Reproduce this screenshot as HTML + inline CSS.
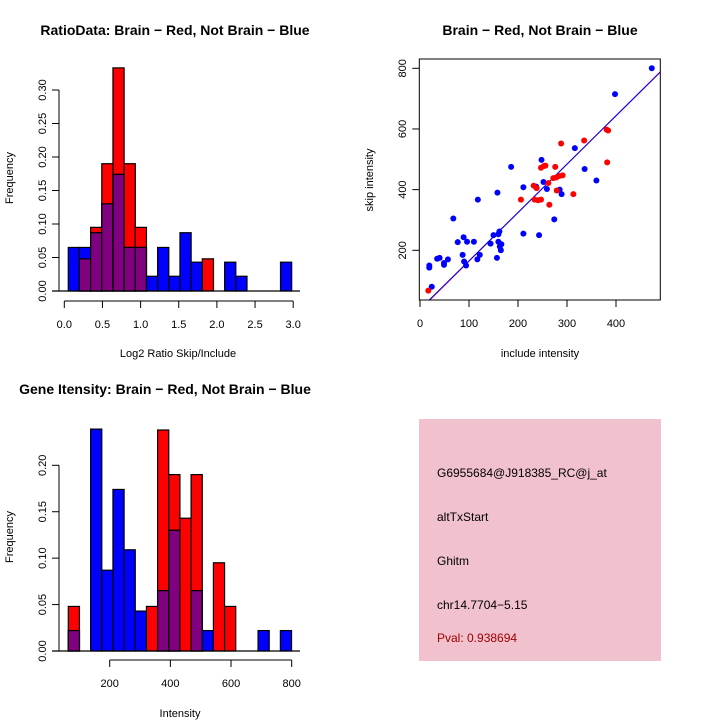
<!DOCTYPE html>
<html><head><meta charset="utf-8"><style>
html,body{margin:0;padding:0;background:#fff;}
svg{display:block;font-family:"Liberation Sans",Helvetica,sans-serif;}
</style></head><body>
<svg id="c" width="720" height="720" viewBox="0 0 720 720" xmlns="http://www.w3.org/2000/svg">
<rect x="0" y="0" width="720" height="720" fill="#fff"/>
<text x="175" y="35" font-size="14" font-weight="bold" text-anchor="middle">RatioData: Brain − Red, Not Brain − Blue</text>
<text x="540" y="35" font-size="14" font-weight="bold" text-anchor="middle">Brain − Red, Not Brain − Blue</text>
<text x="165" y="394" font-size="14" font-weight="bold" text-anchor="middle">Gene Itensity: Brain − Red, Not Brain − Blue</text>
<text x="178" y="357" font-size="11" text-anchor="middle">Log2 Ratio Skip/Include</text>
<text transform="translate(13,178) rotate(-90)" font-size="11" text-anchor="middle">Frequency</text>
<text x="540" y="357" font-size="11" text-anchor="middle">include intensity</text>
<text transform="translate(373,180) rotate(-90)" font-size="11" text-anchor="middle">skip intensity</text>
<text x="180" y="717" font-size="11" text-anchor="middle">Intensity</text>
<text transform="translate(13,537) rotate(-90)" font-size="11" text-anchor="middle">Frequency</text>
<g>
<rect x="419" y="419" width="242" height="242" fill="#f1c1cd"/>
<text x="437" y="477" font-size="12">G6955684@J918385_RC@j_at</text>
<text x="437" y="521" font-size="12">altTxStart</text>
<text x="437" y="565" font-size="12">Ghitm</text>
<text x="437" y="609" font-size="12">chr14.7704−5.15</text>
<text x="437" y="642" font-size="12" fill="#a00000">Pval: 0.938694</text>
</g>
<g id="g1"></g><g id="g2"></g><g id="g3"></g>
</svg>
<script>
// Ratio histogram data
const ratioBinStart = 0.052, ratioBinWidth = 0.1464;
const ratioRed = [0,0.048,0.095,0.19,0.333,0.19,0.095,0,0,0,0,0,0.048,0,0,0,0,0,0,0];
const ratioBlue = [0.065,0.065,0.087,0.13,0.174,0.065,0.065,0.022,0.065,0.022,0.087,0.043,0,0,0.043,0.022,0,0,0,0.043];
const ratioXTicks = [0,0.5,1,1.5,2,2.5,3];
const ratioXLabels = ["0.0","0.5","1.0","1.5","2.0","2.5","3.0"];
const ratioYTicks = [0,0.05,0.1,0.15,0.2,0.25,0.3];
const ratioYLabels = ["0.00","0.05","0.10","0.15","0.20","0.25","0.30"];
// Intensity histogram data
const intBinStart = 63.5, intBinWidth = 36.8;
const intRed = [0.048,0,0,0,0,0,0,0.048,0.238,0.19,0.143,0.19,0,0.095,0.048,0,0,0,0,0];
const intBlue = [0.022,0,0.239,0.087,0.174,0.109,0.043,0,0.065,0.13,0,0.065,0.022,0,0,0,0,0.022,0,0.022];
const intXTicks = [200,400,600,800];
const intYTicks = [0,0.05,0.1,0.15,0.2];
const intYLabels = ["0.00","0.05","0.10","0.15","0.20"];
// Scatter data
const blueX = [473,398,316,336,360,285,289,259,252,248,237,186,211,158,118,68,274,211,243,162,160,150,144,160,166,163,165,157,122,117,110,96,89,77,87,90,94,57,49,49,40,35,19,19,24];
const blueY = [800,715,537,468,430,400,385,402,425,498,410,475,408,390,367,305,302,255,250,262,253,250,222,228,220,212,200,175,185,170,228,228,243,227,185,163,150,170,158,152,175,172,150,143,80];
const redX = [17,381,384,335,288,382,276,247,253,256,232,238,206,234,241,247,264,262,272,278,284,291,279,313];
const redY = [67,598,595,562,552,490,475,472,478,479,413,405,367,367,365,367,350,422,438,440,445,447,397,385];
const scXTicks = [0,100,200,300,400];
const scYTicks = [200,400,600,800];
const redFit = [4,1.6];
const blueFit = [6,1.593];

const NS="http://www.w3.org/2000/svg";
function mk(parent,tag,attrs){const e=document.createElementNS(NS,tag);for(const k in attrs)e.setAttribute(k,attrs[k]);parent.appendChild(e);return e;}

function hist(g,name,red,blue,bs,bw,sx,sy,x0){
  const n=red.length;
  for(let i=0;i<n;i++){
    const xa=sx(bs+i*bw), xb=sx(bs+(i+1)*bw);
    const r=red[i], b=blue[i], m=Math.min(r,b);
    if(r>0){const e=mk(g,'rect',{x:xa,y:sy(r),width:xb-xa,height:sy(0)-sy(r),fill:'#ff0000',stroke:'#000','stroke-width':1.2});
      
      }
    if(b>0){const e=mk(g,'rect',{x:xa,y:sy(b),width:xb-xa,height:sy(0)-sy(b),fill:'#0000ff',stroke:'#000','stroke-width':1.2});
      
      }
    if(m>0){const e=mk(g,'rect',{x:xa,y:sy(m),width:xb-xa,height:sy(0)-sy(m),fill:'#800080',stroke:'#000','stroke-width':1.2});
      
      }
  }
}
function yaxis(g,name,ticks,labels,sy,x){
  mk(g,'line',{x1:x,x2:x,y1:sy(ticks[0]),y2:sy(ticks[ticks.length-1]),stroke:'#000'});
  ticks.forEach((t,i)=>{
    mk(g,'line',{x1:x,x2:x-7,y1:sy(t),y2:sy(t),stroke:'#000'});
    const e=mk(g,'text',{transform:`translate(${x-13},${sy(t)}) rotate(-90)`,'font-size':11,'text-anchor':'middle'});
    e.textContent=labels[i];
    
    
  });
}
function xaxis(g,name,ticks,labels,sx,y){
  mk(g,'line',{x1:sx(ticks[0]),x2:sx(ticks[ticks.length-1]),y1:y,y2:y,stroke:'#000'});
  ticks.forEach((t,i)=>{
    mk(g,'line',{x1:sx(t),x2:sx(t),y1:y,y2:y+7,stroke:'#000'});
    const e=mk(g,'text',{x:sx(t),y:y+27,'font-size':11,'text-anchor':'middle'});
    e.textContent=labels[i];
    
    
  });
}
// Panel 1
(function(){
  const g=document.getElementById('g1');
  
  
  const sx=v=>64.3+v*76.3, sy=v=>291-v*670;
  hist(g,'ratio',ratioRed,ratioBlue,ratioBinStart,ratioBinWidth,sx,sy);
  mk(g,'line',{x1:52,x2:300,y1:291,y2:291,stroke:'#000','stroke-width':1.2});
  yaxis(g,'ratio',ratioYTicks,ratioYLabels,sy,59);
  xaxis(g,'ratio',ratioXTicks,ratioXLabels,sx,301);
})();
// Panel 3
(function(){
  const g=document.getElementById('g3');
  
  
  const sx=v=>109.7+(v-200)*0.30333, sy=v=>651-v*928.5;
  hist(g,'intensity',intRed,intBlue,intBinStart,intBinWidth,sx,sy);
  mk(g,'line',{x1:52,x2:300,y1:651,y2:651,stroke:'#000','stroke-width':1.2});
  yaxis(g,'intensity',intYTicks,intYLabels,sy,59);
  xaxis(g,'intensity',intXTicks,intXTicks.map(String),sx,660);
})();
// Panel 2
(function(){
  const g=document.getElementById('g2');
  
  
  const sx=v=>420+v*0.49, sy=v=>68.3+(800-v)*0.30333;
  const xmin=(419.3-420)/0.49, xmax=(660.3-420)/0.49, ymin=800-(300-68.3)/0.30333;
  const clip=mk(g,'clipPath',{id:'sc'});mk(clip,'rect',{x:419.3,y:59,width:241,height:241});
  const lg=mk(g,'g',{'clip-path':'url(#sc)'});
  [[redFit,'#ff0000','red'],[blueFit,'#0000ff','blue']].forEach(([f,c,n])=>{
    const x1=(ymin-f[0])/f[1];
    const e=mk(lg,'line',{x1:sx(x1),y1:sy(ymin),x2:sx(xmax),y2:sy(f[0]+f[1]*xmax),stroke:c,'stroke-width':1});
    
    
  });
  blueX.forEach((x,i)=>{const e=mk(g,'circle',{cx:sx(x),cy:sy(blueY[i]),r:3,fill:'#0000ff'});
    
    });
  redX.forEach((x,i)=>{const e=mk(g,'circle',{cx:sx(x),cy:sy(redY[i]),r:3,fill:'#ff0000'});
    
    });
  mk(g,'rect',{x:419.3,y:59,width:241,height:241,fill:'none',stroke:'#000','stroke-width':1});
  scYTicks.forEach(t=>{
    mk(g,'line',{x1:419.3,x2:412.3,y1:sy(t),y2:sy(t),stroke:'#000'});
    const e=mk(g,'text',{transform:`translate(${406},${sy(t)}) rotate(-90)`,'font-size':11,'text-anchor':'middle'});
    e.textContent=String(t);
    
    
  });
  scXTicks.forEach(t=>{
    mk(g,'line',{x1:sx(t),x2:sx(t),y1:300,y2:307,stroke:'#000'});
    const e=mk(g,'text',{x:sx(t),y:327,'font-size':11,'text-anchor':'middle'});
    e.textContent=String(t);
    
    
  });
})();
</script>
</body></html>
